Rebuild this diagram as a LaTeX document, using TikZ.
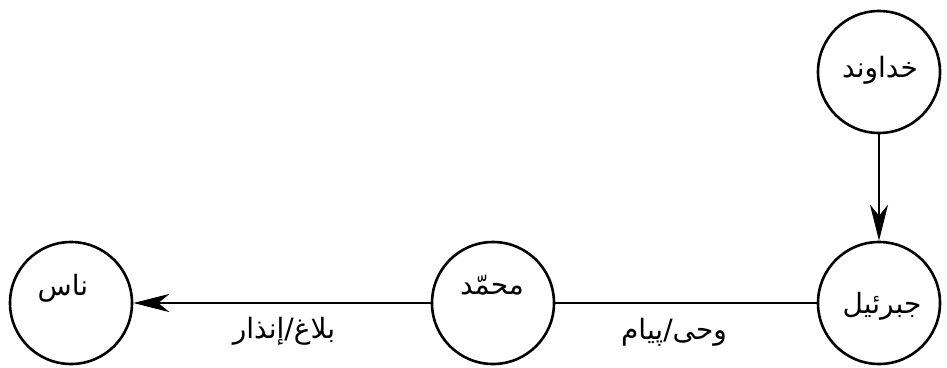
\documentclass[tikz,border=0pt]{standalone}
\usepackage{fontspec}
\newfontfamily\arabicfont[Script=Arabic]{DejaVu Sans}
\TeXXeTstate=1
\usetikzlibrary{arrows.meta}
\begin{document}
\begin{tikzpicture}[x=1pt,y=-1pt,
  circ/.style={draw, circle, line width=2.6pt, minimum size=122pt, inner sep=0pt},
  txt/.style={font=\arabicfont\fontsize{28}{32}\selectfont, inner sep=0pt},
  conn/.style={line width=2.6pt},
  arrowtip/.style={-{Stealth[length=36pt,width=18pt,inset=11pt]}}
]
\useasboundingbox (0,0) rectangle (947,367);
% circles
\node[circ] (god) at (879,72) {};
\node[circ] (gab) at (879,303) {};
\node[circ] (muh) at (493,303) {};
\node[circ] (ppl) at (71,303) {};
% texts in circles
\node[txt] (godtxt) at (880,70) {\beginR خداوند\endR};
\node[txt] (gabtxt) at (882,306) {\beginR جبرئیل\endR};
\node[txt] (muhtxt) at (492,285) {\beginR محمّد\endR};
\node[txt] (ppltxt) at (63,288) {\beginR ناس\endR};
% connectors
\draw[conn,arrowtip] (god) -- (gab);
\draw[conn] (muh) -- (gab);
\draw[conn,arrowtip] (muh) -- (ppl);
% edge labels
\node[txt] (lblleft) at (284,331) {\beginR بلاغ/إنذار\endR};
\node[txt] (lblmid) at (674,332) {\beginR وحی/پیام\endR};
\end{tikzpicture}
\end{document}
